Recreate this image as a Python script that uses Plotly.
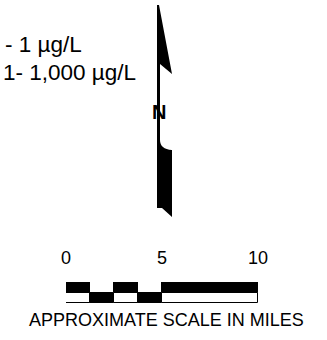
import plotly.graph_objects as go

# ---------------- data ----------------
legend_labels = ["- 1 µg/L", "1- 1,000 µg/L"]
scale_ticks = [0, 5, 10]
segment_edges = [0, 1.25, 2.5, 3.75, 5, 10]
top_row_colors = ["black", "white", "black", "white", "black"]
bottom_row_colors = ["white", "black", "white", "black", "white"]
scale_title = "APPROXIMATE SCALE IN MILES"
north_label = "N"

W, H = 327, 340
FONT = "Arial, Liberation Sans, sans-serif"

starts = segment_edges[:-1]
widths = [b - a for a, b in zip(segment_edges[:-1], segment_edges[1:])]

fig = go.Figure()

# scale bar rows
for row, colors in (("top", top_row_colors), ("bottom", bottom_row_colors)):
    fig.add_trace(go.Bar(
        y=[row] * len(widths), x=widths, base=starts, orientation="h",
        marker=dict(color=colors, line=dict(color="black", width=1)),
        width=1, xaxis="x2", yaxis="y2", showlegend=False, hoverinfo="skip",
    ))

# dummy trace for pixel axes
fig.add_trace(go.Scatter(x=[0, W], y=[0, H], mode="markers",
                         marker=dict(opacity=0), showlegend=False, hoverinfo="skip"))

# north arrow (pixel geometry)
arrow_path = ("M157,5 L159,5 L172,74 L160,64 L160,140 Q160,149 172,150 "
              "L172,217 L162,208 L157,208 Z")
fig.add_shape(type="path", path=arrow_path, xref="x", yref="y",
              fillcolor="black", line=dict(width=0))

annotations = []
# legend text lines
legend_left = [3, 1]
legend_y = [44, 72]
for lab, xl, yc in zip(legend_labels, legend_left, legend_y):
    annotations.append(dict(x=xl, y=yc, xref="x", yref="y", text=lab,
                            showarrow=False, xanchor="left", yanchor="middle",
                            font=dict(family=FONT, size=22.5, color="black")))
annotations.append(dict(x=159, y=112, xref="x", yref="y", text="<b>%s</b>" % north_label,
                        showarrow=False, xanchor="center", yanchor="middle",
                        font=dict(family=FONT, size=20, color="black")))
for t in scale_ticks:
    annotations.append(dict(x=t, y=258, xref="x2", yref="y", text=str(t),
                            showarrow=False, xanchor="center", yanchor="middle",
                            font=dict(family=FONT, size=18, color="black")))
annotations.append(dict(x=166.5, y=320, xref="x", yref="y", text=scale_title,
                        showarrow=False, xanchor="center", yanchor="middle",
                        font=dict(family=FONT, size=18, color="black")))

bar_left, bar_right, bar_top, bar_bottom = 66, 258, 282, 303
fig.update_layout(
    width=W, height=H, margin=dict(l=0, r=0, t=0, b=0),
    paper_bgcolor="white", plot_bgcolor="rgba(0,0,0,0)",
    barmode="overlay", bargap=0,
    xaxis=dict(range=[0, W], visible=False, domain=[0, 1]),
    yaxis=dict(range=[H, 0], visible=False, domain=[0, 1]),
    xaxis2=dict(range=[0, 10], visible=False, anchor="y2",
                domain=[bar_left / W, bar_right / W]),
    yaxis2=dict(range=[-0.5, 1.5], visible=False, anchor="x2",
                categoryorder="array", categoryarray=["bottom", "top"],
                domain=[(H - bar_bottom) / H, (H - bar_top) / H]),
    annotations=annotations,
    showlegend=False,
)

fig.write_html("out.html", config={"displayModeBar": False},
               post_script="document.body.style.margin='0px';")
